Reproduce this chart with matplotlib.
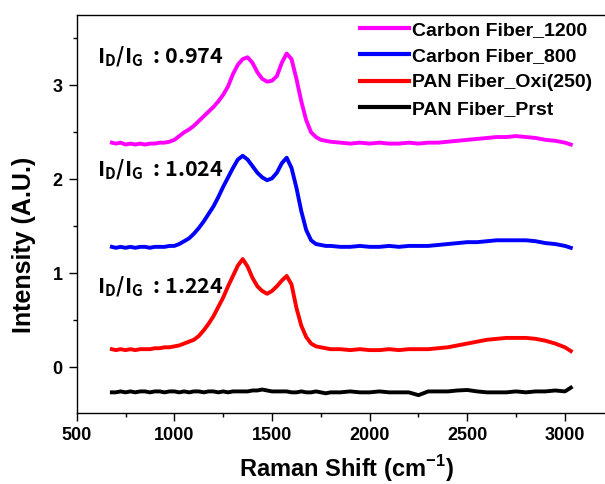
import numpy as np
import matplotlib as mpl
mpl.use("agg")
import matplotlib.pyplot as plt
from matplotlib.ticker import MultipleLocator

# Raman shift grid (cm-1)
shift = [680, 700, 725, 750, 775, 800, 825, 850, 875, 900, 925, 950, 975,
         1000, 1025, 1050, 1075, 1100, 1125, 1150, 1175, 1200, 1225, 1250,
         1275, 1300, 1325, 1350, 1375, 1400, 1425, 1450, 1475, 1500, 1525,
         1550, 1575, 1600, 1625, 1650, 1675, 1700, 1725, 1750, 1775, 1800,
         1850, 1900, 1950, 2000, 2050, 2100, 2150, 2200, 2250, 2300, 2350,
         2400, 2450, 2500, 2550, 2600, 2650, 2700, 2750, 2800, 2850, 2900,
         2950, 3000, 3030]

cf1200 = [2.39, 2.38, 2.39, 2.37, 2.38, 2.37, 2.38, 2.37, 2.38, 2.38, 2.39, 2.39, 2.40,
          2.42, 2.46, 2.50, 2.53, 2.57, 2.62, 2.67, 2.72, 2.77, 2.83, 2.90,
          2.99, 3.12, 3.22, 3.28, 3.30, 3.24, 3.14, 3.07, 3.04, 3.05, 3.10,
          3.24, 3.34, 3.28, 3.07, 2.83, 2.63, 2.50, 2.45, 2.42, 2.41, 2.40,
          2.39, 2.38, 2.39, 2.38, 2.39, 2.38, 2.38, 2.39, 2.38, 2.39, 2.39,
          2.40, 2.41, 2.42, 2.43, 2.44, 2.45, 2.45, 2.46, 2.45, 2.44, 2.42,
          2.41, 2.39, 2.37]

cf800 = [1.28, 1.27, 1.28, 1.27, 1.28, 1.27, 1.28, 1.28, 1.27, 1.28, 1.28, 1.28, 1.29,
         1.29, 1.31, 1.34, 1.37, 1.42, 1.48, 1.55, 1.63, 1.71, 1.81, 1.92,
         2.02, 2.12, 2.21, 2.25, 2.21, 2.14, 2.07, 2.02, 1.99, 2.01, 2.07,
         2.17, 2.23, 2.12, 1.91, 1.66, 1.46, 1.35, 1.31, 1.30, 1.29, 1.29,
         1.28, 1.28, 1.29, 1.28, 1.28, 1.29, 1.28, 1.29, 1.29, 1.29, 1.30,
         1.31, 1.32, 1.33, 1.33, 1.34, 1.35, 1.35, 1.35, 1.35, 1.34, 1.32,
         1.31, 1.29, 1.27]

pan_oxi = [0.19, 0.18, 0.19, 0.18, 0.19, 0.18, 0.19, 0.19, 0.19, 0.20, 0.20, 0.21, 0.21,
           0.22, 0.23, 0.25, 0.27, 0.29, 0.33, 0.39, 0.46, 0.54, 0.64, 0.74,
           0.86, 0.97, 1.08, 1.15, 1.07, 0.95, 0.86, 0.81, 0.78, 0.81, 0.86,
           0.92, 0.97, 0.88, 0.63, 0.44, 0.32, 0.25, 0.22, 0.21, 0.20, 0.19,
           0.19, 0.18, 0.19, 0.18, 0.18, 0.19, 0.18, 0.19, 0.19, 0.19, 0.20,
           0.21, 0.23, 0.25, 0.27, 0.29, 0.30, 0.31, 0.31, 0.31, 0.30, 0.28,
           0.25, 0.21, 0.17]

pan_prst = [-0.27, -0.27, -0.26, -0.27, -0.26, -0.27, -0.26, -0.26, -0.27, -0.26, -0.26, -0.27, -0.26,
            -0.26, -0.27, -0.26, -0.27, -0.26, -0.26, -0.27, -0.26, -0.26, -0.27, -0.26,
            -0.27, -0.26, -0.26, -0.26, -0.26, -0.25, -0.25, -0.24, -0.25, -0.26, -0.26,
            -0.26, -0.26, -0.27, -0.27, -0.26, -0.27, -0.27, -0.26, -0.27, -0.28, -0.27,
            -0.27, -0.26, -0.27, -0.27, -0.26, -0.27, -0.27, -0.27, -0.30, -0.26, -0.26,
            -0.26, -0.25, -0.245, -0.26, -0.27, -0.27, -0.27, -0.26, -0.27, -0.26, -0.26,
            -0.25, -0.26, -0.22]

labels = ["Carbon Fiber_1200", "Carbon Fiber_800", "PAN Fiber_Oxi(250)", "PAN Fiber_Prst"]
colors = ["#ff00ff", "#0000ff", "#ff0000", "#000000"]
ratios = ["0.974", "1.024", "1.224"]
ratio_pos = [(602, 3.23), (602, 2.03), (602, 0.785)]

plt.rcParams["font.family"] = ["Liberation Sans", "DejaVu Sans"]
plt.rcParams["font.weight"] = "bold"

fig = plt.figure(figsize=(6.05, 4.84), dpi=100)
ax = fig.add_axes([76.7/605, 1-413/484, 1-76.7/605, 398/484])

for ys, lab, c in zip([cf1200, cf800, pan_oxi, pan_prst], labels, colors):
    ax.plot(shift, ys, color=c, lw=2.8, label=lab)

for r, (x, y) in zip(ratios, ratio_pos):
    ax.text(x, y, r"I$_{\mathregular{D}}$/I$_{\mathregular{G}}$  : " + r,
            fontsize=15.5, fontweight="bold", va="baseline", ha="left",
            family=["Noto Sans CJK KR", "DejaVu Sans"])

ax.set_xlim(500, 3205)
ax.set_ylim(-0.49, 3.75)
ax.xaxis.set_major_locator(MultipleLocator(500))
ax.xaxis.set_minor_locator(MultipleLocator(250))
ax.yaxis.set_major_locator(MultipleLocator(1))
ax.yaxis.set_minor_locator(MultipleLocator(0.5))
ax.tick_params(which="major", direction="out", length=6, width=1, labelsize=13, pad=4)
ax.tick_params(which="minor", direction="out", length=3, width=1)
ax.spines["right"].set_visible(False)
for s in ("left", "bottom", "top"):
    ax.spines[s].set_linewidth(1)

leg = ax.legend(loc="upper left", bbox_to_anchor=(360/605, 1-21/484),
                bbox_transform=fig.transFigure, frameon=False, fontsize=14,
                handlelength=2.5, handletextpad=0.2, labelspacing=0.45, borderpad=0,
                borderaxespad=0)
for h in leg.get_lines():
    h.set_linewidth(3)

fig.text(346/605, 1-477/484, r"Raman Shift (cm$^{\mathregular{-1}}$)", fontsize=17,
         fontweight="bold", ha="center", va="baseline")
fig.text(24/605, 1-245/484, "Intensity (A.U.)", fontsize=18, fontweight="bold",
         rotation=90, ha="center", va="center")

fig.savefig("out.png", dpi=100)
